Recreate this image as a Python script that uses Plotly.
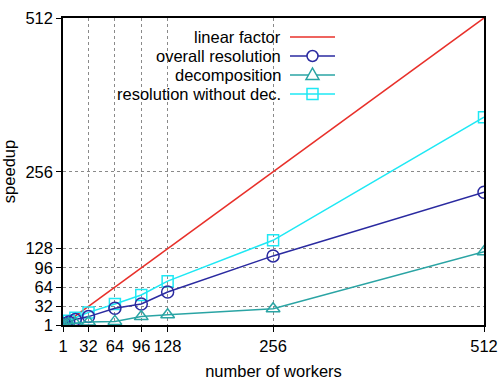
import plotly.graph_objects as go

workers = [1, 4, 8, 16, 32, 64, 96, 128, 256, 512]
overall = [1, 3, 6, 10, 15, 29, 36, 56, 116, 222]
decomp = [1, 2, 3, 4, 6, 7, 15, 18, 28, 123]
without_dec = [1, 4, 8, 13, 22, 36, 51, 74, 142, 347]
linear_x = [1, 512]
linear_y = [1, 512]
ticks = [1, 32, 64, 96, 128, 256, 512]
names = ["linear factor", "overall resolution", "decomposition", "resolution without dec."]

RED = "#e8302a"
BLUE = "#2a2aa0"
TEAL = "#2aa4a4"
CYAN = "#1ee8f4"
FONT = "Liberation Sans, Arial, sans-serif"

fig = go.Figure()
fig.add_trace(go.Scatter(x=linear_x, y=linear_y, mode="lines",
                         line=dict(color=RED, width=1.5), name=names[0]))
fig.add_trace(go.Scatter(x=workers, y=without_dec, mode="lines+markers",
                         line=dict(color=CYAN, width=1.5),
                         marker=dict(symbol="square-open", size=11, color=CYAN, line=dict(width=1.5)),
                         name=names[3]))
fig.add_trace(go.Scatter(x=workers, y=overall, mode="lines+markers",
                         line=dict(color=BLUE, width=1.5),
                         marker=dict(symbol="circle-open", size=12, color=BLUE, line=dict(width=1.5)),
                         name=names[1]))
fig.add_trace(go.Scatter(x=workers, y=decomp, mode="lines+markers",
                         line=dict(color=TEAL, width=1.5),
                         marker=dict(symbol="triangle-up-open", size=12, color=TEAL, line=dict(width=1.5)),
                         name=names[2]))

L, R, T, B = 63, 14, 18, 64
W, H = 498, 389
pw, ph = W - L - R, H - T - B

def px(xp):
    return (xp - L) / pw

def py(yp):
    return (H - B - yp) / ph

shapes = []
annotations = []
# opaque legend box
shapes.append(dict(type="rect", xref="paper", yref="paper",
                   x0=px(72), x1=px(345), y0=py(104), y1=py(31),
                   fillcolor="white", line=dict(width=0), layer="between"))

rows_y = [37, 56, 75, 94]
colors = [RED, BLUE, TEAL, CYAN]
syms = [None, "circle", "triangle", "square"]
for name, yy, col, sym in zip(names, rows_y, colors, syms):
    annotations.append(dict(text=name, xref="paper", yref="paper", x=px(283), y=py(yy),
                            xanchor="right", yanchor="middle", showarrow=False,
                            font=dict(size=16.5, color="black", family=FONT)))
    shapes.append(dict(type="line", xref="paper", yref="paper",
                       x0=px(290), x1=px(335), y0=py(yy), y1=py(yy),
                       line=dict(color=col, width=1.5), layer="above"))
    cx, cy = px(312.5), py(yy)
    if sym == "circle":
        shapes.append(dict(type="circle", xref="paper", yref="paper", xsizemode="pixel", ysizemode="pixel",
                           xanchor=cx, yanchor=cy, x0=-5.5, x1=5.5, y0=-5.5, y1=5.5,
                           fillcolor="white", line=dict(color=col, width=1.5), layer="above"))
    elif sym == "square":
        shapes.append(dict(type="rect", xref="paper", yref="paper", xsizemode="pixel", ysizemode="pixel",
                           xanchor=cx, yanchor=cy, x0=-5.5, x1=5.5, y0=-5.5, y1=5.5,
                           fillcolor="rgba(0,0,0,0)", line=dict(color=col, width=1.5), layer="above"))
    elif sym == "triangle":
        shapes.append(dict(type="path", xref="paper", yref="paper", xsizemode="pixel", ysizemode="pixel",
                           xanchor=cx, yanchor=cy, path="M -6.5 -4.5 L 6.5 -4.5 L 0 7 Z",
                           fillcolor="white", line=dict(color=col, width=1.5), layer="above"))

axis_common = dict(
    tickvals=ticks, ticktext=[str(t) for t in ticks],
    showline=True, linecolor="black", linewidth=1.5, mirror=True,
    ticks="outside", ticklen=5, tickcolor="black", tickwidth=1,
    showgrid=True, gridcolor="#8a8a8a", griddash="dot", gridwidth=1,
    zeroline=False, range=[1, 512], tickangle=0, automargin=False,
    tickfont=dict(size=16.5, color="black", family=FONT),
)

fig.update_layout(
    width=W, height=H, showlegend=False,
    margin=dict(l=L, r=R, t=T, b=B),
    plot_bgcolor="white", paper_bgcolor="white",
    xaxis=dict(**axis_common, title=dict(text="number of workers", standoff=12,
                                           font=dict(size=16.5, color="black", family=FONT))),
    yaxis=dict(**axis_common, title=dict(text="speedup", standoff=8,
                                           font=dict(size=16.5, color="black", family=FONT))),
    shapes=shapes, annotations=annotations,
)

fig.write_html("out.html")
